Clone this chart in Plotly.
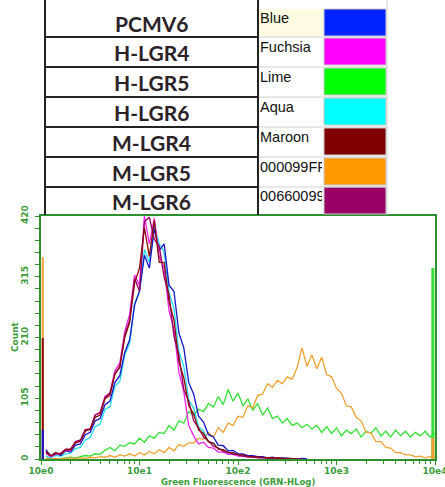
import numpy as np
import plotly.graph_objects as go

# ---------------- data ----------------
samples = ["PCMV6", "H-LGR4", "H-LGR5", "H-LGR6", "M-LGR4", "M-LGR5", "M-LGR6"]
color_names = ["Blue", "Fuchsia", "Lime", "Aqua", "Maroon", "000099FF", "00660099"]
swatch_colors = ["#0022FF", "#FF00FF", "#00FF00", "#00FFFF", "#7F0000", "#FF9900", "#990066"]
line_colors = ["#1414CC", "#EE22EE", "#33E033", "#22DDEE", "#8B0A0A", "#F0A030", "#99005F"]

channel_step = 0.05          # log10 width of one plotted channel, first channel at 0.05
x_tick_vals = [1, 10, 100, 1000, 10000]
x_tick_text = ["10e0", "10e1", "10e2", "10e3", "10e4"]
y_tick_vals = [0, 105, 210, 315, 420]

counts = {
    "PCMV6": [16, 5, 11, 6, 14, 12, 24, 26, 42, 46, 66, 70, 94, 100, 132, 144, 184, 206, 266, 290,
              352, 330, 398, 360, 372, 300, 290, 218, 192, 132, 112, 74, 64, 42, 38, 24, 23, 14, 15, 9,
              9, 6, 6, 4, 4, 2, 3, 1, 2, 1, 1, 0, 1, 0],
    "H-LGR4": [10, 4, 8, 9, 15, 14, 29, 30, 50, 52, 76, 80, 108, 114, 152, 166, 220, 250, 318, 300,
               420, 372, 416, 350, 330, 256, 224, 150, 116, 58, 40, 26, 29, 20, 19, 12, 12, 8, 8, 5,
               5, 3, 4, 2, 2, 1, 1, 1, 0, 1],
    "H-LGR5": [0, 0, 1, 1, 2, 3, 2, 4, 6, 5, 9, 8, 15, 20, 14, 24, 22, 28, 26, 36,
               29, 40, 36, 46, 44, 58, 50, 66, 62, 82, 76, 86, 82, 96, 90, 108, 94, 120, 100, 114,
               92, 104, 84, 96, 76, 88, 70, 74, 62, 70, 58, 62, 54, 60, 52, 58, 46, 56, 44, 54,
               40, 50, 44, 52, 38, 48, 44, 54, 40, 48, 38, 50, 40, 48, 38, 46, 40, 48, 38, 44],
    "H-LGR6": [5, 2, 6, 5, 9, 10, 18, 20, 33, 37, 56, 60, 86, 90, 126, 134, 180, 200, 268, 290,
               362, 340, 402, 372, 358, 288, 260, 186, 160, 102, 88, 56, 48, 30, 28, 18, 16, 10, 10, 6,
               6, 4, 4, 3, 2, 2, 1, 1, 1, 0],
    "M-LGR4": [13, 6, 11, 8, 16, 16, 28, 31, 48, 52, 72, 76, 104, 110, 146, 160, 210, 236, 304, 330,
               400, 350, 412, 340, 340, 272, 240, 168, 140, 92, 78, 50, 44, 30, 27, 17, 16, 11, 11, 7,
               7, 4, 4, 3, 3, 2, 2, 1, 1, 1, 1, 0],
    "M-LGR5": [2, 0, 1, 0, 1, 2, 1, 2, 1, 3, 2, 4, 3, 6, 3, 7, 5, 9, 5, 11,
               7, 13, 9, 16, 11, 20, 14, 25, 22, 28, 28, 36, 34, 46, 38, 54, 46, 62, 58, 74,
               72, 92, 88, 110, 112, 130, 124, 136, 130, 142, 138, 158, 192, 160, 180, 156, 176, 146, 142, 122,
               114, 92, 90, 72, 66, 46, 46, 30, 30, 20, 19, 11, 11, 7, 7, 4, 5, 2, 4, 3],
    "M-LGR6": [11, 5, 9, 10, 17, 17, 30, 33, 51, 51, 76, 80, 106, 114, 148, 158, 214, 240, 312, 290,
               410, 418, 380, 368, 314, 284, 212, 180, 120, 100, 66, 54, 38, 31, 22, 19, 13, 12, 8, 8,
               5, 5, 3, 3, 2, 2, 1, 2, 1, 1, 0, 1, 0],
}

# first / last channel pile-up (off-scale events) read from the edges
edge_channel_log = [0.018, 3.978]
left_edge_counts = {"M-LGR5": 349, "M-LGR4": 209, "PCMV6": 50}
right_edge_counts = {"H-LGR5": 330, "M-LGR5": 36}

draw_order = ["H-LGR5", "M-LGR5", "H-LGR6", "PCMV6", "H-LGR4", "M-LGR6", "M-LGR4"]

# ---------------- figure ----------------
GREEN = "#2E8F2E"
TICKGREEN = "#3C9C3C"
W, H = 445, 487
L, R, T, B = 41, 435, 216, 459   # plot area in pixels


def px(x):
    return (x - L) / (R - L)


def py(y):
    return (B - y) / (B - T)


color_of = dict(zip(samples, line_colors))
fig = go.Figure()

for s in draw_order:
    vals = counts[s]
    logs = channel_step * np.arange(1, len(vals) + 1)
    fig.add_trace(go.Scatter(x=10 ** logs, y=vals, mode="lines",
                             line=dict(color=color_of[s], width=1.3),
                             showlegend=False, hoverinfo="skip"))

for s, v in left_edge_counts.items():
    xe = 10 ** edge_channel_log[0]
    fig.add_trace(go.Scatter(x=[xe, xe], y=[0, v], mode="lines",
                             line=dict(color=color_of[s], width=2),
                             showlegend=False, hoverinfo="skip"))
for s, v in right_edge_counts.items():
    xe = 10 ** edge_channel_log[1]
    fig.add_trace(go.Scatter(x=[xe, xe], y=[0, v], mode="lines",
                             line=dict(color=color_of[s], width=3),
                             showlegend=False, hoverinfo="skip"))

minor_x = [k * 10 ** d for d in range(4) for k in range(2, 10)]
tick_font = dict(family="DejaVu Sans", size=9, color=TICKGREEN, weight="bold")

fig.update_xaxes(type="log", range=[0, 4], tickvals=x_tick_vals, ticktext=x_tick_text,
                 ticks="outside", ticklen=4, tickwidth=1, tickcolor=GREEN, automargin=False,
                 ticklabelstandoff=-2, ticklabeloverflow="allow",
                 minor=dict(tickvals=minor_x, ticks="outside", ticklen=3, tickcolor=GREEN, showgrid=False),
                 showline=True, linecolor=GREEN, linewidth=2, mirror=True,
                 showgrid=False, zeroline=False, tickfont=tick_font)
fig.update_yaxes(range=[0, 420], tickvals=y_tick_vals, tickangle=-90, automargin=False,
                 ticks="outside", ticklen=4, tickwidth=1, tickcolor=GREEN, ticklabelstandoff=3,
                 ticklabeloverflow="allow",
                 minor=dict(dtick=21, ticks="outside", ticklen=4, tickcolor=GREEN, showgrid=False),
                 showline=True, linecolor=GREEN, linewidth=2, mirror=True,
                 showgrid=False, zeroline=False, tickfont=tick_font)

shapes = []
annotations = []

# axis titles
annotations.append(dict(x=px(238), y=py(482), xref="paper", yref="paper",
                        xanchor="center", yanchor="middle",
                        text="Green Fluorescence (GRN-HLog)", showarrow=False,
                        font=dict(family="DejaVu Sans", size=8.5, color=TICKGREEN, weight="bold")))
annotations.append(dict(x=px(15), y=py(337), xref="paper", yref="paper",
                        xanchor="center", yanchor="middle",
                        text="Count", showarrow=False, textangle=-90,
                        font=dict(family="DejaVu Sans", size=9, color=TICKGREEN, weight="bold")))

# legend table above the plot
row_tops = [9, 38, 68, 98, 128, 158, 187]
row_bots = [36, 65, 95, 125, 155, 185, 214]
row_lines = [37, 67, 97, 127, 157, 187]
TL, TM, TS, TR = 45, 258, 324, 386

for i in range(len(samples)):
    top, bot = row_tops[i], row_bots[i]
    if i == 0:
        shapes.append(dict(type="rect", xref="paper", yref="paper",
                           x0=px(TM + 1), x1=px(TS - 1), y0=py(bot), y1=py(top),
                           fillcolor="#FFFBE3", line=dict(width=0), layer="below"))
    annotations.append(dict(x=px((TL + TM) / 2), y=py((top + bot) / 2 + 1), xref="paper", yref="paper",
                            xanchor="center", yanchor="middle",
                            text="<b>%s</b>" % samples[i], showarrow=False,
                            font=dict(family="Lato", size=21, color="#2A2228")))
    annotations.append(dict(x=px(TM + 1), y=py(top), xref="paper", yref="paper",
                            xanchor="left", yanchor="top", align="left", width=62,
                            borderpad=0, text=color_names[i], showarrow=False,
                            font=dict(family="Liberation Sans", size=14.5, color="#111111")))
    shapes.append(dict(type="rect", xref="paper", yref="paper",
                       x0=px(TS), x1=px(TR), y0=py(bot), y1=py(top),
                       fillcolor=swatch_colors[i], line=dict(color="#C8C8C8", width=1)))

for yl in row_lines:
    shapes.append(dict(type="line", xref="paper", yref="paper",
                       x0=px(TL), x1=px(TM), y0=py(yl), y1=py(yl),
                       line=dict(color="#222222", width=2)))
    shapes.append(dict(type="line", xref="paper", yref="paper",
                       x0=px(TM), x1=px(TR + 1), y0=py(yl), y1=py(yl),
                       line=dict(color="#D0D0D0", width=1)))
for xl in [TL, TM]:
    shapes.append(dict(type="line", xref="paper", yref="paper",
                       x0=px(xl), x1=px(xl), y0=py(0), y1=py(T - 1),
                       line=dict(color="#222222", width=2)))
shapes.append(dict(type="line", xref="paper", yref="paper",
                   x0=px(TR + 1), x1=px(TR + 1), y0=py(0), y1=py(T - 1),
                   line=dict(color="#D0D0D0", width=1)))

fig.update_layout(width=W, height=H, margin=dict(l=L, r=W - R, t=T, b=H - B, pad=0),
                  plot_bgcolor="white", paper_bgcolor="white",
                  shapes=shapes, annotations=annotations)

fig.write_html("out.html", config={"displayModeBar": False},
               post_script="document.body.style.margin='0';document.body.style.overflow='hidden';")
